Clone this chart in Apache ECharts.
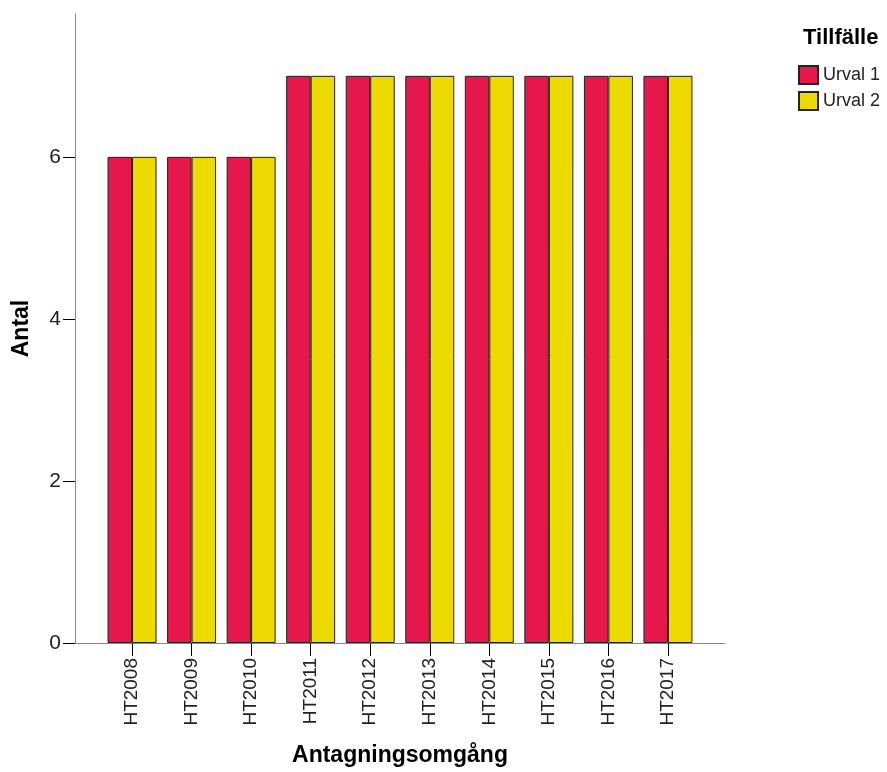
<!DOCTYPE html>
<html>
<head>
<meta charset="utf-8">
<script src="https://cdn.jsdelivr.net/npm/echarts@6/dist/echarts.min.js"></script>
<style>
html,body{margin:0;padding:0;background:#fff;}
#chart{width:887px;height:772px;}
</style>
</head>
<body>
<div id="chart"></div>
<script>
const categories = ['HT2008','HT2009','HT2010','HT2011','HT2012','HT2013','HT2014','HT2015','HT2016','HT2017'];
const urval1 = [6,6,6,7,7,7,7,7,7,7];
const urval2 = [6,6,6,7,7,7,7,7,7,7];
const yTicks = [0,2,4,6];
const seriesNames = ['Urval 1','Urval 2'];
const legendTitle = 'Tillfälle';
const xTitle = 'Antagningsomgång';
const yTitle = 'Antal';

const idx = categories.map((c,i)=>i);
const FONT = '"Liberation Sans", Arial, sans-serif';

const chart = echarts.init(document.getElementById('chart'), null, {renderer:'canvas'});
chart.setOption({
  animation:false,
  backgroundColor:'#fff',
  title:{
    text:legendTitle, left:803, top:27, padding:0,
    textStyle:{fontFamily:FONT, fontSize:22, fontWeight:'bold', color:'#000'}
  },
  legend:{
    orient:'vertical', left:798, top:65, padding:0,
    itemWidth:19, itemHeight:18, itemGap:6,
    icon:'rect',
    textStyle:{fontFamily:FONT, fontSize:18, color:'#222'},
    data:seriesNames
  },
  grid:{left:75, right:162, top:14, bottom:124, containLabel:false},
  xAxis:{
    type:'value', min:-0.958, max:9.958,
    name:xTitle, nameLocation:'middle', nameGap:101,
    nameTextStyle:{fontFamily:FONT, fontSize:23, fontWeight:'bold', color:'#000'},
    axisLine:{show:true, onZero:false, lineStyle:{color:'#888', width:1}},
    axisTick:{show:true, length:13, customValues:idx, lineStyle:{color:'#000', width:1}},
    axisLabel:{show:true, rotate:90, margin:15, customValues:idx,
      fontFamily:FONT, fontSize:19, color:'#222',
      formatter:v=>categories[Math.round(v)]},
    splitLine:{show:false}
  },
  yAxis:{
    type:'value', min:0, max:7.763, interval:2,
    name:yTitle, nameLocation:'middle', nameGap:42,
    nameTextStyle:{fontFamily:FONT, fontSize:23, fontWeight:'bold', color:'#000'},
    axisLine:{show:true, onZero:false, lineStyle:{color:'#888', width:1}},
    axisTick:{show:true, length:12, customValues:yTicks, lineStyle:{color:'#000', width:1}},
    axisLabel:{show:true, margin:14, customValues:yTicks,
      fontFamily:FONT, fontSize:21, color:'#222'},
    splitLine:{show:false}
  },
  series:[
    {name:seriesNames[0], type:'bar', barWidth:24.5, barGap:'0%',
     data:idx.map(i=>[i, urval1[i]]),
     itemStyle:{color:'#E6174B', borderColor:'#222', borderWidth:1}},
    {name:seriesNames[1], type:'bar', barWidth:24.5, barGap:'0%',
     data:idx.map(i=>[i, urval2[i]]),
     itemStyle:{color:'#EDDA00', borderColor:'#222', borderWidth:1}}
  ]
});
</script>
</body>
</html>
